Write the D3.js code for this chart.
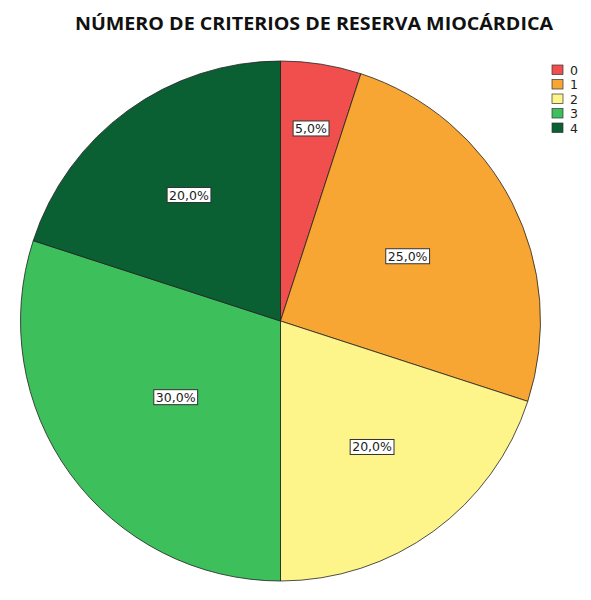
<!DOCTYPE html>
<html>
<head>
<meta charset="utf-8">
<script src="https://cdn.jsdelivr.net/npm/d3@7"></script>
<style>
  body { margin: 0; background: #fff; }
</style>
</head>
<body>
<div id="chart"></div>
<script>
// data
var categories = ["0", "1", "2", "3", "4"];
var percents = [5, 25, 20, 30, 20];
var colors = ["#f04f4d", "#f8a633", "#fdf48a", "#3dbf5c", "#0a6033"];

var width = 591, height = 600;
var cx = 280.5, cy = 321, radius = 260;

var svg = d3.select("#chart")
  .append("svg")
    .attr("width", width)
    .attr("height", height);

// title
svg.append("text")
  .attr("x", 314)
  .attr("y", 30)
  .attr("text-anchor", "middle")
  .attr("font-family", "Open Sans, sans-serif")
  .attr("font-weight", "bold")
  .attr("font-size", "17px")
  .attr("textLength", 478)
  .attr("lengthAdjust", "spacingAndGlyphs")
  .attr("fill", "#111")
  .text("NÚMERO DE CRITERIOS DE RESERVA MIOCÁRDICA");

var data = categories.map(function(c, i) { return {cat: c, value: percents[i], color: colors[i]}; });

var pie = d3.pie()
  .sort(null)
  .value(function(d) { return d.value; });

var arc = d3.arc().innerRadius(0).outerRadius(radius);

var g = svg.append("g")
  .attr("transform", "translate(" + cx + "," + cy + ")");

var arcs = pie(data);

g.selectAll("path")
  .data(arcs)
  .enter()
  .append("path")
  .attr("d", arc)
  .attr("fill", function(d) { return d.data.color; })
  .attr("stroke", "#222")
  .attr("stroke-width", 0.8);

// labels: smaller slices get their label pushed further out (like SPSS does)
var labels = g.selectAll("g.lab")
  .data(arcs)
  .enter()
  .append("g")
  .attr("class", "lab")
  .attr("transform", function(d) {
    var span = d.endAngle - d.startAngle;
    var r = radius * (0.80 - 0.16 * span);
    var a = (d.startAngle + d.endAngle) / 2;
    return "translate(" + (r * Math.sin(a)) + "," + (-r * Math.cos(a)) + ")";
  });

labels.append("text")
  .attr("text-anchor", "middle")
  .attr("dy", "0.36em")
  .attr("font-family", "DejaVu Sans, sans-serif")
  .attr("font-size", "12.5px")
  .attr("fill", "#222")
  .text(function(d) { return d.data.value.toFixed(1).replace(".", ",") + "%"; });

labels.each(function() {
  var t = d3.select(this).select("text");
  var bb = t.node().getBBox();
  d3.select(this).insert("rect", "text")
    .attr("x", bb.x - 2)
    .attr("y", bb.y)
    .attr("width", bb.width + 4)
    .attr("height", bb.height)
    .attr("fill", "#fff")
    .attr("stroke", "#333")
    .attr("stroke-width", 1);
});

// legend
var legend = svg.selectAll("g.leg")
  .data(data)
  .enter()
  .append("g")
  .attr("class", "leg")
  .attr("transform", function(d, i) { return "translate(552," + (65 + i * 14.5) + ")"; });

legend.append("rect")
  .attr("width", 11)
  .attr("height", 9.5)
  .attr("fill", function(d) { return d.color; })
  .attr("stroke", "#333")
  .attr("stroke-width", 0.7);

legend.append("text")
  .attr("x", 18)
  .attr("y", 9.5)
  .attr("font-family", "DejaVu Sans, sans-serif")
  .attr("font-size", "12.5px")
  .attr("fill", "#222")
  .text(function(d) { return d.cat; });
</script>
</body>
</html>
